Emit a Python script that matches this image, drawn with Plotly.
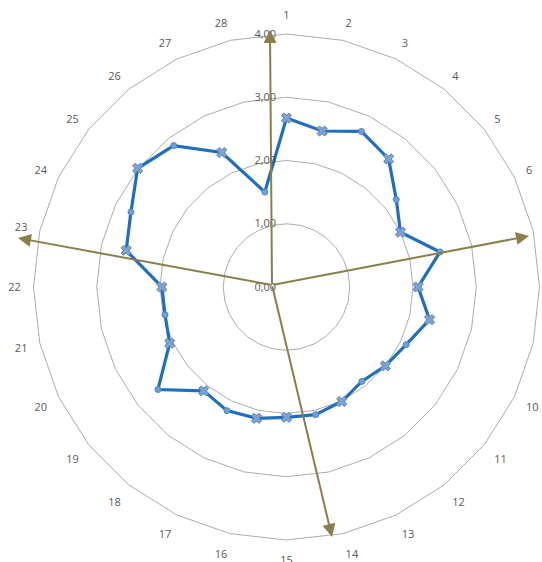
import plotly.graph_objects as go

# Categories 1..28 around the dial, clockwise from the top
categories = [str(i) for i in range(1, 29)]

# Score per category
scores = [2.67, 2.53, 2.73, 2.59, 2.22, 2.00, 2.49, 2.08, 2.32, 2.10,
          2.00, 1.91, 2.01, 2.07, 2.06, 2.13, 2.17, 2.10, 2.60, 2.05,
          1.97, 1.97, 2.60, 2.73, 3.01, 2.86, 2.36, 1.54]

# Categories flagged with a cross marker
flagged = [1, 2, 4, 6, 8, 9, 11, 13, 15, 16, 18, 20, 22, 23, 25, 27]

radial_ticks = [0, 1, 2, 3, 4]

# Direction pointers drawn over the dial (pixel positions on the page)
W, H = 542, 562
pointer_origin = (272, 285)
pointer_tips = [(270, 30), (529, 236), (332, 537), (18, 238)]

line_blue = "#1F6EC0"
olive = "#8A7E4B"
grid_grey = "#ABABAB"
text_grey = "#595959"

theta_closed = categories + categories[:1]
r_closed = scores + scores[:1]

fig = go.Figure()
fig.add_trace(go.Scatterpolar(
    r=r_closed, theta=theta_closed, mode="lines+markers",
    line=dict(color=line_blue, width=3.2),
    marker=dict(symbol="circle", size=6, color="#6E9FD6",
                line=dict(color="#4F86C6", width=1)),
    hoverinfo="r+theta", showlegend=False,
))
fig.add_trace(go.Scatterpolar(
    r=[scores[c - 1] for c in flagged],
    theta=[categories[c - 1] for c in flagged],
    mode="markers",
    marker=dict(symbol="x", size=9, color="#7FA3CF",
                line=dict(color="#5B87BE", width=1)),
    showlegend=False,
))

cx, cy, rad = 286.5, 287, 253
fig.update_layout(
    width=W, height=H,
    margin=dict(l=0, r=0, t=0, b=0),
    paper_bgcolor="white", plot_bgcolor="white",
    separators=",.",
    font=dict(family="Open Sans", size=11, color=text_grey),
    polar=dict(
        domain=dict(x=[(cx - rad) / W, (cx + rad) / W],
                    y=[1 - (cy + rad) / H, 1 - (cy - rad) / H]),
        bgcolor="white",
        gridshape="linear",
        angularaxis=dict(
            type="category", categoryorder="array", categoryarray=categories,
            rotation=90, direction="clockwise",
            showgrid=False, showline=True, linecolor=grid_grey, linewidth=1,
            ticks="outside", ticklen=10, tickcolor="rgba(0,0,0,0)",
            tickfont=dict(size=11, color=text_grey),
        ),
        radialaxis=dict(
            range=[0, 4], tickvals=radial_ticks, tickformat=".2f",
            angle=90, tickangle=90, side="counterclockwise",
            showline=False, showgrid=True, gridcolor=grid_grey, gridwidth=1,
            ticks="outside", ticklen=6, tickcolor="rgba(0,0,0,0)",
            tickfont=dict(size=11, color=text_grey),
        ),
    ),
)

ox, oy = pointer_origin
for tx, ty in pointer_tips:
    fig.add_annotation(
        x=tx / W, y=1 - ty / H, xref="paper", yref="paper",
        ax=ox - tx, ay=oy - ty, axref="pixel", ayref="pixel",
        text="", showarrow=True, arrowhead=2, arrowsize=1.3,
        arrowwidth=2, arrowcolor=olive, standoff=0,
    )

fig.write_html("out.html")
